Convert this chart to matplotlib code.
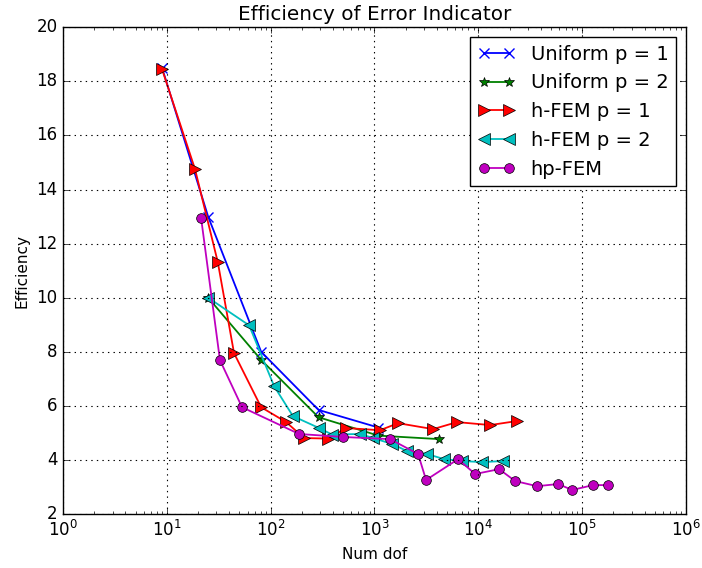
import matplotlib
matplotlib.use("Agg")
import matplotlib.pyplot as plt

plt.style.use("classic")
plt.rcParams["figure.facecolor"] = "white"
plt.rcParams["savefig.facecolor"] = "white"

# Uniform refinement, p = 1
uni1_dof = [9, 25, 81, 289, 1089]
uni1_eff = [18.5, 13.0, 8.0, 5.85, 5.2]

# Uniform refinement, p = 2
uni2_dof = [25, 81, 289, 1089, 4225]
uni2_eff = [10.0, 7.7, 5.58, 4.9, 4.77]

# Adaptive h-FEM, p = 1
h1_dof = [9, 18.7, 31, 44.4, 81, 141, 210, 357, 533, 1132, 1688, 3670, 6250, 13000, 23650]
h1_eff = [18.45, 14.75, 11.31, 7.95, 5.95, 5.4, 4.81, 4.79, 5.18, 5.1, 5.36, 5.14, 5.4, 5.29, 5.44]

# Adaptive h-FEM, p = 2
h2_dof = [25, 62, 108, 164, 293, 390, 727, 970, 1479, 2060, 3210, 4690, 6980, 10880, 17330]
h2_eff = [10.0, 8.98, 6.73, 5.62, 5.18, 4.94, 4.96, 4.81, 4.59, 4.33, 4.22, 4.03, 3.96, 3.92, 3.96]

# Adaptive hp-FEM
hp_dof = [21.4, 32.5, 53, 188, 498, 1413, 2630, 3140, 6390, 9310, 15850, 22640, 36850, 58700, 80100, 127600, 178000]
hp_eff = [12.94, 7.69, 5.95, 4.96, 4.85, 4.77, 4.22, 3.26, 4.03, 3.48, 3.66, 3.22, 3.03, 3.11, 2.89, 3.07, 3.07]

fig = plt.figure(figsize=(7.02, 5.68), dpi=100)
ax = fig.add_axes([0.0897, 0.095, 0.8875, 0.857])

lw = 1.3
ms = 7
ax.plot(uni1_dof, uni1_eff, color="b", marker="x", mec="b", ms=ms, mew=1.0, lw=lw, label="Uniform p = 1")
ax.plot(uni2_dof, uni2_eff, color="g", marker="*", mec="k", mew=0.5, ms=ms, lw=lw, label="Uniform p = 2")
ax.plot(h1_dof, h1_eff, color="r", marker=">", mec="k", mew=0.5, ms=ms + 1, lw=lw, label="h-FEM p = 1")
ax.plot(h2_dof, h2_eff, color="c", marker="<", mec="k", mew=0.5, ms=ms + 1, lw=lw, label="h-FEM p = 2")
ax.plot(hp_dof, hp_eff, color="m", marker="o", mec="k", mew=0.5, ms=ms, lw=lw, label="hp-FEM")

ax.set_xscale("log")
ax.set_xlim(1, 1e6)
ax.set_ylim(2, 20)
ax.set_yticks(range(2, 21, 2))
ax.grid(True, which="major", color="k", linestyle=":", linewidth=0.8)

ax.set_title("Efficiency of Error Indicator", fontsize=14.4)
ax.set_xlabel("Num dof", fontsize=11)
ax.set_ylabel("Efficiency", fontsize=11)
ax.tick_params(labelsize=12)

ax.legend(loc="upper right", fontsize=14, numpoints=2, fancybox=False, handlelength=1.9)

fig.savefig("out.png", dpi=100)
